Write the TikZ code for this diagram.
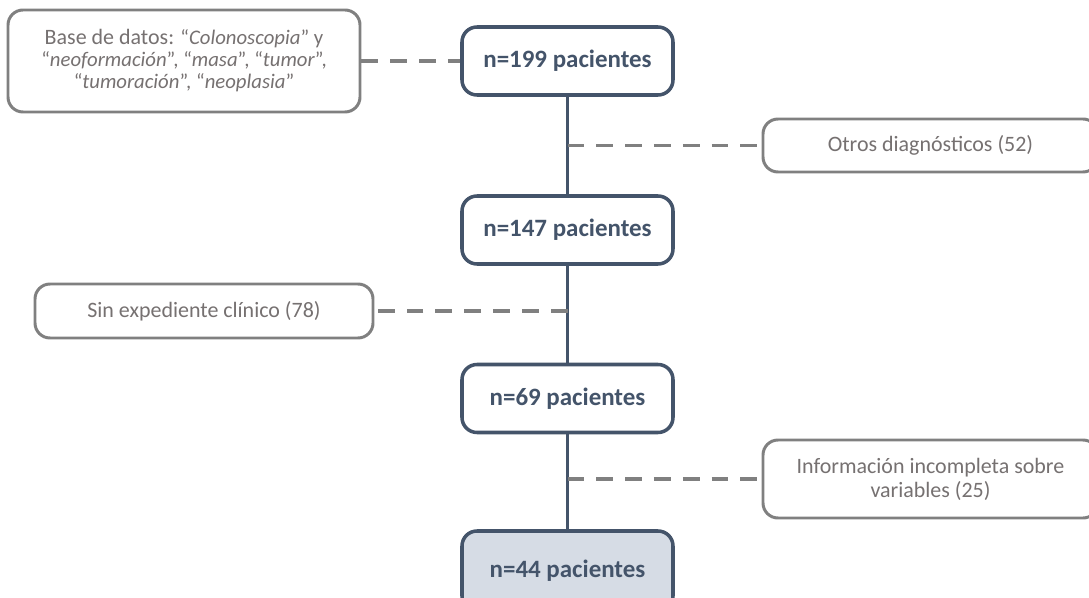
\documentclass[tikz,border=0pt]{standalone}
\usepackage{fontspec}
\setmainfont{Carlito}
\definecolor{navy}{HTML}{44546A}
\definecolor{greyline}{HTML}{808080}
\definecolor{greytext}{HTML}{767171}
\definecolor{palefill}{HTML}{D6DCE5}
\begin{document}
\begin{tikzpicture}[
        mainbox/.style={draw=navy, line width=2pt, rounded corners=0.3cm, fill=white,
            text=navy, font=\fontsize{14.2}{17}\selectfont\bfseries,
            minimum width=4.22cm, minimum height=1.36cm, inner sep=0pt},
        sidebox/.style={draw=greyline, line width=1.7pt, rounded corners=0.3cm, fill=white,
            text=greytext, font=\fontsize{12.5}{13.6}\selectfont, align=center, inner sep=0pt},
        spine/.style={draw=navy, line width=2pt},
        exclude/.style={draw=greyline, line width=2.2pt, dash pattern=on 9.6pt off 6.8pt}]
    \useasboundingbox (0,0) rectangle (21.78,11.94);
    \clip (0,0) rectangle (21.78,11.94);

    % main flow
    \node[mainbox] (n199) at (11.35,10.72) {n=199 pacientes};
    \node[mainbox] (n147) at (11.35,7.34) {n=147 pacientes};
    \node[mainbox] (n69) at (11.35,3.97) {n=69 pacientes};
    \node[mainbox, fill=palefill, minimum height=1.6cm] (n44) at (11.35,0.52) {n=44 pacientes};

    % side boxes
    \node[sidebox, minimum width=7.04cm, minimum height=2.04cm,
        font=\fontsize{11.8}{12.5}\selectfont] (base) at (3.68,10.72)
        {{\fontsize{12.5}{12.5}\selectfont Base de datos:} “\textit{Colonoscopia}” y\\
         “\textit{neoformación}”, “\textit{masa}”, “\textit{tumor}”,\\
         “\textit{tumoración}”, “\textit{neoplasia}”};
    \node[sidebox, minimum width=6.70cm, minimum height=1.06cm] (otros) at (18.61,9.03)
        {Otros diagnósticos (52)};
    \node[sidebox, minimum width=6.76cm, minimum height=1.08cm] (sinexp) at (4.08,5.72)
        {Sin expediente clínico (78)};
    \node[sidebox, minimum width=6.70cm, minimum height=1.56cm] (info) at (18.61,2.36)
        {Información incompleta sobre\\variables (25)};

    \coordinate (cut1) at (n199.south |- otros.west);
    \coordinate (cut2) at (n199.south |- sinexp.east);
    \coordinate (cut3) at (n199.south |- info.west);

    % connectors
    \draw[spine] (n199) -- (n147);
    \draw[spine] (n147) -- (n69);
    \draw[spine] (n69) -- (n44);

    \draw[exclude] (base.east) -- (n199.west);
    \draw[exclude] (cut1) -- (otros.west);
    \draw[exclude] (cut2) -- (sinexp.east);
    \draw[exclude] (cut3) -- (info.west);
\end{tikzpicture}
\end{document}
